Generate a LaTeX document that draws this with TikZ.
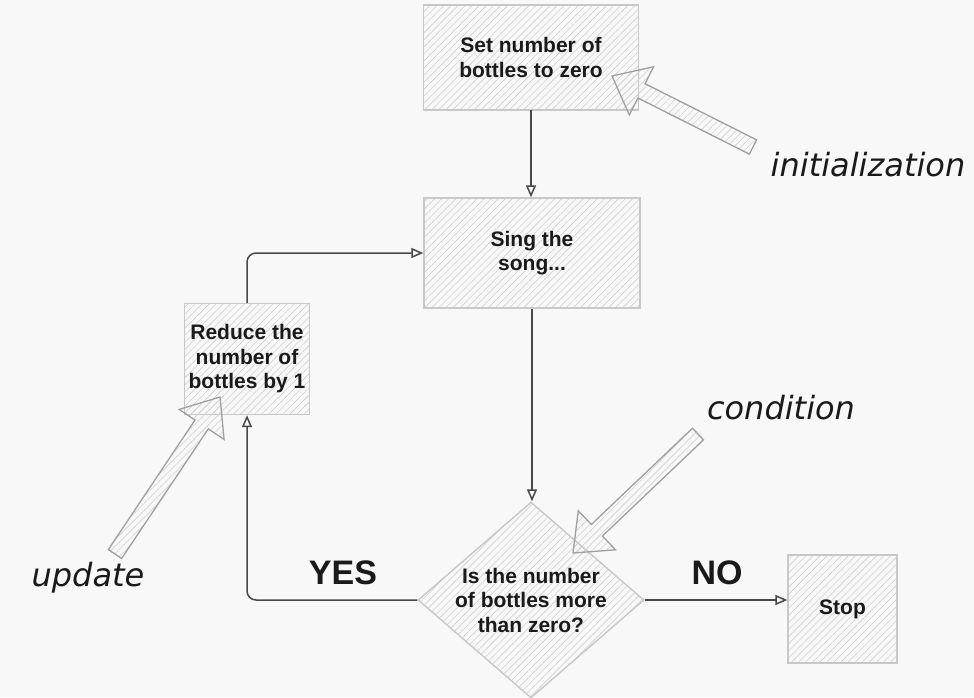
\documentclass[tikz,border=0pt]{standalone}
\usepackage{fontspec}
\setmainfont{Liberation Sans}
\newfontfamily\handfont{DejaVu Sans}
\usetikzlibrary{shapes.geometric,arrows.meta,patterns.meta,calc}
\definecolor{bg}{HTML}{F8F8F8}
\definecolor{edge}{HTML}{C8C8C8}
\definecolor{hatch}{HTML}{D0D0D0}
\definecolor{conn}{HTML}{484848}
\definecolor{ink}{HTML}{1A1A1A}
\definecolor{aedge}{HTML}{A0A0A0}
\tikzset{
  hatched/.style={pattern={Lines[angle=45,distance=5pt,line width=0.6pt]}, pattern color=hatch},
  box/.style={rectangle, draw=edge, line width=1.4pt, hatched, inner sep=0pt, align=center,
    text=ink, font=\bfseries\fontsize{21}{24.5}\selectfont},
  decision/.style={diamond, draw=edge, line width=1.4pt, hatched, inner sep=0pt,
    minimum width=226pt, minimum height=196pt},
  txt/.style={align=center, text=ink, font=\bfseries\fontsize{21}{24.5}\selectfont},
  conn/.style={draw=conn, line width=1.5pt, -{Triangle[open,length=12pt,width=10pt]}},
  barrow/.style={draw=aedge, line width=1.3pt, hatched, line join=miter},
  hand/.style={text=ink, font=\handfont\itshape\fontsize{32}{36}\selectfont},
  answer/.style={text=ink, font=\bfseries\fontsize{34}{38}\selectfont}
}
\newcommand\bigarrow[2]{%
  \coordinate (#2-b) at ($(#2)!33pt!(#1)$);
  \draw[barrow] (#2) -- ($(#2-b)!27pt!90:(#2)$) -- ($(#2-b)!8pt!90:(#2)$)
    -- ($(#1)!8pt!90:(#2)$) -- ($(#1)!8pt!-90:(#2)$)
    -- ($(#2-b)!8pt!-90:(#2)$) -- ($(#2-b)!27pt!-90:(#2)$) -- cycle;}
\begin{document}
\begin{tikzpicture}[x=1pt,y=-1pt]
  \useasboundingbox (0,0) rectangle (974,697);
  \fill[bg] (0,0) rectangle (974,697);

  \node[box, minimum width=215pt, minimum height=105pt] (top) at (531,57.5)
    {Set number of\\bottles to zero};
  \node[box, minimum width=216pt, minimum height=110pt] (sing) at (532,253)
    {Sing the\\song...};
  \node[box, minimum width=125pt, minimum height=111pt] (reduce) at (247,359)
    {Reduce the\\number of\\bottles by 1};
  \node[decision] (dec) at (531,600) {};
  \node[txt] (dectext) at (dec.center) {Is the number\\of bottles more\\than zero?};
  \node[box, minimum width=109pt, minimum height=108pt] (stop) at (842.5,609) {Stop};

  \draw[conn] (top.south) -- (top.south |- sing.north);
  \draw[conn] (sing.south) -- (sing.south |- dec.north);
  \draw[conn, rounded corners=9pt] (reduce.north) |- (sing.west);
  \draw[conn, rounded corners=9pt] (dec.west) -| (reduce.south);
  \draw[conn] (dec.east) -- (dec.east -| stop.west);

  \node[answer] (yes) at (343,573) {YES};
  \node[answer] (no) at (717,573) {NO};

  \coordinate (initT) at (753,147);
  \coordinate (initH) at (612,76);
  \coordinate (condT) at (698,434);
  \coordinate (condH) at (573,553);
  \coordinate (updT) at (115,554);
  \coordinate (updH) at (220,397);
  \bigarrow{initT}{initH}
  \bigarrow{condT}{condH}
  \bigarrow{updT}{updH}

  \node[hand] (initl) at (868,165) {initialization};
  \node[hand] (condl) at (781,408) {condition};
  \node[hand] (updl) at (88,578) {update};
\end{tikzpicture}
\end{document}
